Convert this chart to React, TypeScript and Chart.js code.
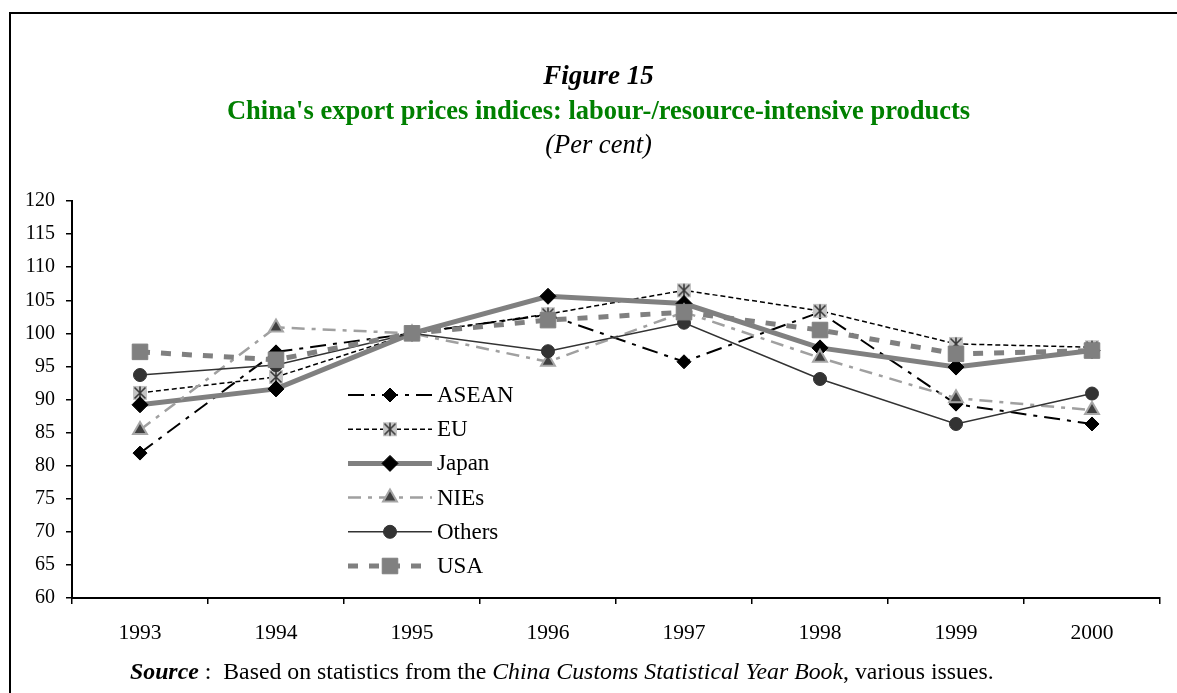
import React, { useEffect, useRef } from "react";
import { Chart, registerables } from "chart.js";
import { drawPoint } from "chart.js/helpers";

Chart.register(...registerables);

const years = ["1993", "1994", "1995", "1996", "1997", "1998", "1999", "2000"];
const asean = [81.9, 97.2, 100, 102.8, 95.7, 103.2, 89.3, 86.3];
const eu = [91.0, 93.4, 100, 102.9, 106.5, 103.4, 98.4, 97.9];
const japan = [89.2, 91.6, 100, 105.6, 104.5, 97.8, 94.9, 97.4];
const nies = [85.4, 100.9, 100, 95.7, 103.2, 96.3, 90.2, 88.4];
const others = [93.7, 95.2, 100, 97.3, 101.6, 93.1, 86.3, 90.9];
const usa = [97.2, 96.0, 100, 102.0, 103.2, 100.5, 96.9, 97.4];
const yTicks = { min: 60, max: 120, step: 5 };

const FONT = "'Liberation Serif', 'Times New Roman', serif";

function makeStarBox(): HTMLCanvasElement {
  const c = document.createElement("canvas");
  c.width = 16;
  c.height = 16;
  const g = c.getContext("2d")!;
  g.fillStyle = "#c4c4c4";
  g.fillRect(1, 1, 14, 14);
  g.strokeStyle = "#3a3a3a";
  g.lineWidth = 1.6;
  g.beginPath();
  g.moveTo(8, 1.5);
  g.lineTo(8, 14.5);
  g.moveTo(2.5, 2.5);
  g.lineTo(13.5, 13.5);
  g.moveTo(13.5, 2.5);
  g.lineTo(2.5, 13.5);
  g.stroke();
  return c;
}

const legendPlugin = {
  id: "customLegend",
  afterDraw(chart: any) {
    const ctx = chart.ctx as CanvasRenderingContext2D;
    const x0 = 348;
    const x1 = 432;
    const xm = 390;
    const rowY0 = 395;
    const rowGap = 34.2;
    chart.data.datasets.forEach((ds: any, i: number) => {
      const y = rowY0 + i * rowGap;
      ctx.save();
      ctx.strokeStyle = ds.borderColor;
      ctx.lineWidth = ds.borderWidth;
      ctx.setLineDash(ds.borderDash || []);
      ctx.lineCap = "butt";
      ctx.beginPath();
      ctx.moveTo(x0, y);
      ctx.lineTo(x1, y);
      ctx.stroke();
      ctx.setLineDash([]);
      ctx.fillStyle = ds.pointBackgroundColor;
      ctx.strokeStyle = ds.pointBorderColor;
      ctx.lineWidth = ds.pointBorderWidth;
      drawPoint(
        ctx,
        { pointStyle: ds.pointStyle, rotation: 0, radius: ds.pointRadius, borderWidth: ds.pointBorderWidth },
        xm,
        y
      );
      ctx.fillStyle = "#000";
      ctx.font = `23px ${FONT}`;
      ctx.textBaseline = "middle";
      ctx.textAlign = "left";
      ctx.fillText(ds.label, x1 + 5, y + 1);
      ctx.restore();
    });
  },
};

export default function App() {
  const ref = useRef<HTMLCanvasElement>(null);

  useEffect(() => {
    if (!ref.current) return;
    const star = makeStarBox();
    const chart = new Chart(ref.current, {
      type: "line",
      data: {
        labels: years,
        datasets: [
          {
            label: "ASEAN",
            data: asean,
            borderColor: "#000000",
            borderWidth: 2,
            borderDash: [16, 7, 4, 7],
            pointStyle: "rectRot",
            pointRadius: 7,
            pointBackgroundColor: "#000000",
            pointBorderColor: "#000000",
            pointBorderWidth: 1,
            order: 6,
          },
          {
            label: "EU",
            data: eu,
            borderColor: "#000000",
            borderWidth: 1.5,
            borderDash: [5, 3],
            pointStyle: star as any,
            pointRadius: 8,
            pointBackgroundColor: "#c4c4c4",
            pointBorderColor: "#3a3a3a",
            pointBorderWidth: 1,
            order: 5,
          },
          {
            label: "Japan",
            data: japan,
            borderColor: "#808080",
            borderWidth: 5,
            borderDash: [],
            pointStyle: "rectRot",
            pointRadius: 8,
            pointBackgroundColor: "#000000",
            pointBorderColor: "#000000",
            pointBorderWidth: 1,
            order: 4,
          },
          {
            label: "NIEs",
            data: nies,
            borderColor: "#a0a0a0",
            borderWidth: 2.5,
            borderDash: [13, 7, 4, 7],
            pointStyle: "triangle",
            pointRadius: 8,
            pointBackgroundColor: "#404040",
            pointBorderColor: "#a6a6a6",
            pointBorderWidth: 2,
            order: 3,
          },
          {
            label: "Others",
            data: others,
            borderColor: "#333333",
            borderWidth: 1.5,
            borderDash: [],
            pointStyle: "circle",
            pointRadius: 6.5,
            pointBackgroundColor: "#333333",
            pointBorderColor: "#333333",
            pointBorderWidth: 1,
            order: 2,
          },
          {
            label: "USA",
            data: usa,
            borderColor: "#808080",
            borderWidth: 5,
            borderDash: [10, 11],
            pointStyle: "rect",
            pointRadius: 11,
            pointBackgroundColor: "#808080",
            pointBorderColor: "#808080",
            pointBorderWidth: 1,
            order: 1,
          },
        ],
      },
      options: {
        animation: false,
        responsive: false,
        devicePixelRatio: 1,
        layout: { padding: { top: 201, right: 17, left: 0, bottom: 0 } },
        plugins: {
          legend: { display: false },
          tooltip: { enabled: false },
          title: { display: false },
        },
        elements: { line: { tension: 0 } },
        scales: {
          x: {
            type: "category",
            offset: true,
            grid: {
              offset: true,
              drawOnChartArea: false,
              drawTicks: true,
              tickLength: 6,
              color: "#000",
              lineWidth: 1.5,
            },
            border: { display: true, color: "#000", width: 2 },
            ticks: { color: "#000", font: { family: FONT, size: 21.5 }, padding: 16, maxRotation: 0 },
            afterFit(scale: any) {
              scale.height = 95;
            },
          },
          y: {
            min: yTicks.min,
            max: yTicks.max,
            grid: {
              drawOnChartArea: false,
              drawTicks: true,
              tickLength: 6,
              color: "#000",
              lineWidth: 1.5,
            },
            border: { display: true, color: "#000", width: 2 },
            ticks: {
              stepSize: yTicks.step,
              color: "#000",
              font: { family: FONT, size: 20 },
              padding: 11,
            },
            afterFit(scale: any) {
              scale.width = 72;
            },
          },
        },
      },
      plugins: [legendPlugin],
    });
    return () => chart.destroy();
  }, []);

  const lineStyle = (cy: number): React.CSSProperties => ({
    position: "absolute",
    left: 10,
    width: 1177,
    top: cy,
    transform: "translateY(-50%)",
    textAlign: "center",
    fontFamily: FONT,
    lineHeight: 1.15,
    whiteSpace: "nowrap",
  });

  return (
    <div
      style={{
        position: "fixed",
        left: 0,
        top: 0,
        width: 1177,
        height: 693,
        overflow: "hidden",
        background: "#fff",
      }}
    >
      <div
        style={{
          position: "absolute",
          left: 9,
          top: 12,
          width: 1300,
          height: 900,
          border: "2px solid #000",
        }}
      />
      <canvas ref={ref} width={1177} height={693} style={{ position: "absolute", left: 0, top: 0 }} />
      <div style={{ ...lineStyle(76), fontSize: 27, fontWeight: "bold", fontStyle: "italic" }}>Figure 15</div>
      <div style={{ ...lineStyle(110), fontSize: 26.5, fontWeight: "bold", color: "#008000" }}>
        China's export prices indices: labour-/resource-intensive products
      </div>
      <div style={{ ...lineStyle(144), fontSize: 26.5, fontStyle: "italic" }}>(Per cent)</div>
      <div style={{ ...lineStyle(672), left: 130, width: "auto", textAlign: "left", fontSize: 23.8, whiteSpace: "pre" }}>
        <b>
          <i>Source</i>
        </b>
        {" :  Based on statistics from the "}
        <i>China Customs Statistical Year Book</i>
        {", various issues."}
      </div>
    </div>
  );
}
